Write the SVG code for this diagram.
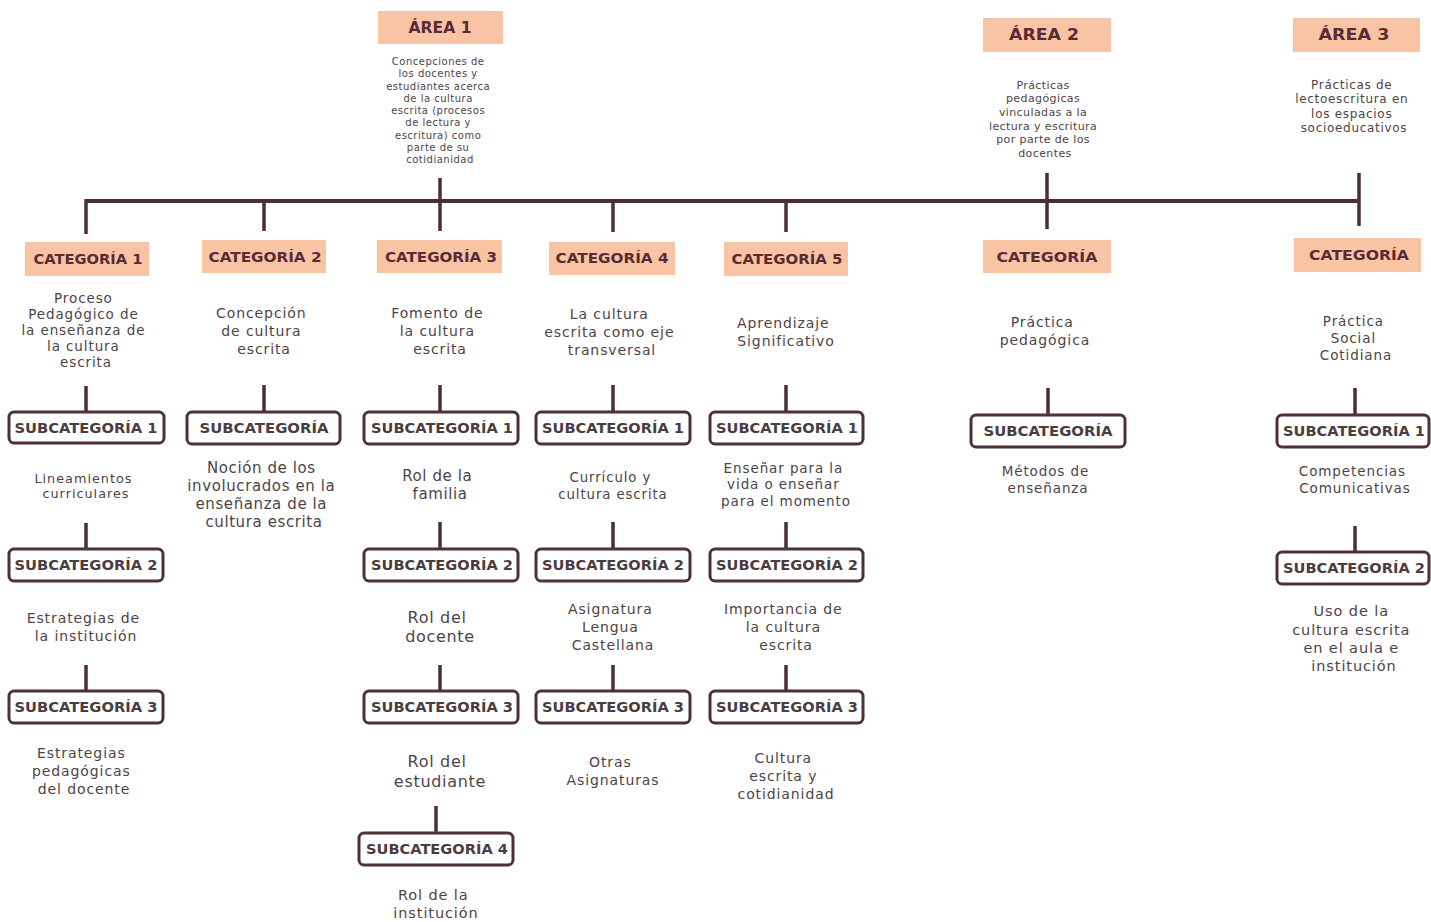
<svg xmlns="http://www.w3.org/2000/svg" width="1431" height="922" viewBox="0 0 1431 922">
  <style>
    .bg { fill: #ffffff; }
    .tag { fill: #f8c4a4; }
    .tagtxt { font-family: "DejaVu Sans", "Lato", sans-serif; font-weight: bold; font-size: 14px; fill: #5a2b36; text-anchor: middle; dominant-baseline: central; }
    .areatxt { font-size: 15.5px; }
    .sub { fill: #ffffff; stroke: #4d3038; stroke-width: 3; }
    .subtxt { font-family: "DejaVu Sans", "Lato", sans-serif; font-weight: bold; font-size: 14px; fill: #4a3d41; text-anchor: middle; dominant-baseline: central; }
    .desc { font-family: "DejaVu Sans", "Open Sans", sans-serif; font-size: 13.5px; letter-spacing: 0.9px; fill: #4e4448; text-anchor: middle; dominant-baseline: central; }
    .link { stroke: #4d2d36; stroke-width: 3.5; fill: none; }
    .bar { stroke: #4d2d36; stroke-width: 4; fill: none; }
  </style>
  <rect class="bg" x="0" y="0" width="1431" height="922"/>

  <!-- connectors -->
  <g id="connectors">
    <line class="bar" x1="86" y1="201" x2="1359" y2="201"/>
    <line class="link" x1="440" y1="178" x2="440" y2="231"/>
    <line class="link" x1="1047" y1="173" x2="1047" y2="229"/>
    <line class="link" x1="1359" y1="173" x2="1359" y2="226"/>
    <line class="link" x1="86" y1="199" x2="86" y2="234"/>
    <line class="link" x1="264" y1="199" x2="264" y2="231"/>
    <line class="link" x1="613" y1="199" x2="613" y2="232"/>
    <line class="link" x1="786" y1="199" x2="786" y2="232"/>
    <!-- description to first subcategory -->
    <line class="link" x1="86" y1="386" x2="86" y2="412"/>
    <line class="link" x1="264" y1="385" x2="264" y2="412"/>
    <line class="link" x1="440" y1="385" x2="440" y2="412"/>
    <line class="link" x1="613" y1="385" x2="613" y2="412"/>
    <line class="link" x1="786" y1="385" x2="786" y2="412"/>
    <line class="link" x1="1048" y1="388" x2="1048" y2="415"/>
    <line class="link" x1="1355" y1="388" x2="1355" y2="415"/>
    <!-- subcategory chains -->
    <line class="link" x1="86" y1="523" x2="86" y2="549"/>
    <line class="link" x1="440" y1="522" x2="440" y2="549"/>
    <line class="link" x1="613" y1="522" x2="613" y2="549"/>
    <line class="link" x1="786" y1="522" x2="786" y2="549"/>
    <line class="link" x1="1355" y1="526" x2="1355" y2="552"/>
    <line class="link" x1="86" y1="665" x2="86" y2="691"/>
    <line class="link" x1="440" y1="665" x2="440" y2="691"/>
    <line class="link" x1="613" y1="665" x2="613" y2="691"/>
    <line class="link" x1="786" y1="665" x2="786" y2="691"/>
    <line class="link" x1="436" y1="806" x2="436" y2="833"/>
  </g>

  <!-- areas -->
  <g id="area1">
    <rect class="tag" x="378" y="11" width="125" height="33"/>
    <text class="tagtxt areatxt" x="440" y="28" textLength="63" lengthAdjust="spacingAndGlyphs">ÁREA 1</text>
    <text class="desc" style="font-size:10px;letter-spacing:0.5px">
      <tspan x="440" y="61">Concepciones de</tspan>
      <tspan x="440" y="73">los docentes y</tspan>
      <tspan x="440" y="86">estudiantes acerca</tspan>
      <tspan x="440" y="98">de la cultura</tspan>
      <tspan x="440" y="110">escrita (procesos</tspan>
      <tspan x="440" y="122">de lectura y</tspan>
      <tspan x="440" y="135">escritura) como</tspan>
      <tspan x="440" y="147">parte de su</tspan>
      <tspan x="440" y="159">cotidianidad</tspan>
    </text>
  </g>
  <g id="area2">
    <rect class="tag" x="983" y="18" width="128" height="34"/>
    <text class="tagtxt areatxt" x="1044" y="35" textLength="70" lengthAdjust="spacingAndGlyphs">ÁREA 2</text>
    <text class="desc" style="font-size:11px;letter-spacing:0.4px">
      <tspan x="1045" y="85">Prácticas</tspan>
      <tspan x="1045" y="98">pedagógicas</tspan>
      <tspan x="1045" y="112">vinculadas a la</tspan>
      <tspan x="1045" y="126">lectura y escritura</tspan>
      <tspan x="1045" y="139">por parte de los</tspan>
      <tspan x="1045" y="153">docentes</tspan>
    </text>
  </g>
  <g id="area3">
    <rect class="tag" x="1293" y="18" width="127" height="34"/>
    <text class="tagtxt areatxt" x="1354" y="35" textLength="71" lengthAdjust="spacingAndGlyphs">ÁREA 3</text>
    <text class="desc" style="font-size:12px;letter-spacing:0.7px">
      <tspan x="1354" y="85">Prácticas de</tspan>
      <tspan x="1354" y="99">lectoescritura en</tspan>
      <tspan x="1354" y="114">los espacios</tspan>
      <tspan x="1354" y="128">socioeducativos</tspan>
    </text>
  </g>

  <!-- categories -->
  <g id="cat1">
    <rect class="tag" x="25" y="242" width="124" height="34"/>
    <text class="tagtxt" x="88" y="259" textLength="109" lengthAdjust="spacingAndGlyphs">CATEGORÍA 1</text>
    <text class="desc">
      <tspan x="86" y="298">Proceso</tspan>
      <tspan x="86" y="314">Pedagógico de</tspan>
      <tspan x="86" y="330">la enseñanza de</tspan>
      <tspan x="86" y="346">la cultura</tspan>
      <tspan x="86" y="362">escrita</tspan>
    </text>
  </g>
  <g id="cat2">
    <rect class="tag" x="202" y="240" width="124" height="33"/>
    <text class="tagtxt" x="265" y="257" textLength="113" lengthAdjust="spacingAndGlyphs">CATEGORÍA 2</text>
    <text class="desc" style="font-size:14px">
      <tspan x="264" y="313">Concepción</tspan>
      <tspan x="264" y="331">de cultura</tspan>
      <tspan x="264" y="349">escrita</tspan>
    </text>
  </g>
  <g id="cat3">
    <rect class="tag" x="377" y="240" width="125" height="33"/>
    <text class="tagtxt" x="441" y="257" textLength="112" lengthAdjust="spacingAndGlyphs">CATEGORÍA 3</text>
    <text class="desc" style="font-size:14px">
      <tspan x="440" y="313">Fomento de</tspan>
      <tspan x="440" y="331">la cultura</tspan>
      <tspan x="440" y="349">escrita</tspan>
    </text>
  </g>
  <g id="cat4">
    <rect class="tag" x="549" y="242" width="126" height="33"/>
    <text class="tagtxt" x="612" y="258" textLength="113" lengthAdjust="spacingAndGlyphs">CATEGORÍA 4</text>
    <text class="desc" style="font-size:14px">
      <tspan x="612" y="314">La cultura</tspan>
      <tspan x="612" y="332">escrita como eje</tspan>
      <tspan x="612" y="350">transversal</tspan>
    </text>
  </g>
  <g id="cat5">
    <rect class="tag" x="724" y="242" width="124" height="34"/>
    <text class="tagtxt" x="787" y="259" textLength="111" lengthAdjust="spacingAndGlyphs">CATEGORÍA 5</text>
    <text class="desc" style="font-size:14px">
      <tspan x="786" y="323">Aprendizaje</tspan>
      <tspan x="786" y="341">Significativo</tspan>
    </text>
  </g>
  <g id="cat-area2">
    <rect class="tag" x="983" y="240" width="128" height="33"/>
    <text class="tagtxt" x="1047" y="257" textLength="101" lengthAdjust="spacingAndGlyphs">CATEGORÍA</text>
    <text class="desc" style="font-size:14px">
      <tspan x="1045" y="322">Práctica</tspan>
      <tspan x="1045" y="340">pedagógica</tspan>
    </text>
  </g>
  <g id="cat-area3">
    <rect class="tag" x="1294" y="238" width="127" height="34"/>
    <text class="tagtxt" x="1359" y="255" textLength="100" lengthAdjust="spacingAndGlyphs">CATEGORÍA</text>
    <text class="desc">
      <tspan x="1356" y="321">Práctica</tspan>
      <tspan x="1356" y="338">Social</tspan>
      <tspan x="1356" y="355">Cotidiana</tspan>
    </text>
  </g>

  <!-- column 1 subcategories -->
  <g id="c1-sub1">
    <rect class="sub" x="9" y="412" width="155" height="31" rx="5"/>
    <text class="subtxt" x="86" y="428" textLength="143" lengthAdjust="spacingAndGlyphs">SUBCATEGORÍA 1</text>
    <text class="desc" style="font-size:12.8px;letter-spacing:1px">
      <tspan x="86" y="478">Lineamientos</tspan>
      <tspan x="86" y="493">curriculares</tspan>
    </text>
  </g>
  <g id="c1-sub2">
    <rect class="sub" x="9" y="549" width="154" height="32" rx="5"/>
    <text class="subtxt" x="86" y="565" textLength="143" lengthAdjust="spacingAndGlyphs">SUBCATEGORÍA 2</text>
    <text class="desc" style="font-size:14px">
      <tspan x="86" y="618">Estrategias de</tspan>
      <tspan x="86" y="636">la institución</tspan>
    </text>
  </g>
  <g id="c1-sub3">
    <rect class="sub" x="9" y="691" width="154" height="32" rx="5"/>
    <text class="subtxt" x="86" y="707" textLength="143" lengthAdjust="spacingAndGlyphs">SUBCATEGORÍA 3</text>
    <text class="desc" style="font-size:14px">
      <tspan x="84" y="753">Estrategias</tspan>
      <tspan x="84" y="771">pedagógicas</tspan>
      <tspan x="84" y="789">del docente</tspan>
    </text>
  </g>

  <!-- column 2 -->
  <g id="c2-sub">
    <rect class="sub" x="187" y="412" width="153" height="32" rx="5"/>
    <text class="subtxt" x="264" y="428" textLength="129" lengthAdjust="spacingAndGlyphs">SUBCATEGORÍA</text>
    <text class="desc" style="font-size:15px;letter-spacing:0.6px">
      <tspan x="264" y="468">Noción de los</tspan>
      <tspan x="264" y="486">involucrados en la</tspan>
      <tspan x="264" y="504">enseñanza de la</tspan>
      <tspan x="264" y="522">cultura escrita</tspan>
    </text>
  </g>

  <!-- column 3 -->
  <g id="c3-sub1">
    <rect class="sub" x="364" y="412" width="154" height="32" rx="5"/>
    <text class="subtxt" x="442" y="428" textLength="142" lengthAdjust="spacingAndGlyphs">SUBCATEGORÍA 1</text>
    <text class="desc" style="font-size:15px;letter-spacing:0.6px">
      <tspan x="440" y="476">Rol de la</tspan>
      <tspan x="440" y="494">familia</tspan>
    </text>
  </g>
  <g id="c3-sub2">
    <rect class="sub" x="364" y="549" width="154" height="32" rx="5"/>
    <text class="subtxt" x="442" y="565" textLength="142" lengthAdjust="spacingAndGlyphs">SUBCATEGORÍA 2</text>
    <text class="desc" style="font-size:16px;letter-spacing:0.7px">
      <tspan x="440" y="617">Rol del</tspan>
      <tspan x="440" y="636">docente</tspan>
    </text>
  </g>
  <g id="c3-sub3">
    <rect class="sub" x="364" y="691" width="154" height="32" rx="5"/>
    <text class="subtxt" x="442" y="707" textLength="142" lengthAdjust="spacingAndGlyphs">SUBCATEGORÍA 3</text>
    <text class="desc" style="font-size:16px;letter-spacing:0.7px">
      <tspan x="440" y="761">Rol del</tspan>
      <tspan x="440" y="781">estudiante</tspan>
    </text>
  </g>
  <g id="c3-sub4">
    <rect class="sub" x="359" y="833" width="154" height="32" rx="5"/>
    <text class="subtxt" x="437" y="849" textLength="142" lengthAdjust="spacingAndGlyphs">SUBCATEGORÍA 4</text>
    <text class="desc" style="font-size:14.5px">
      <tspan x="436" y="895">Rol de la</tspan>
      <tspan x="436" y="913">institución</tspan>
    </text>
  </g>

  <!-- column 4 -->
  <g id="c4-sub1">
    <rect class="sub" x="536" y="412" width="154" height="32" rx="5"/>
    <text class="subtxt" x="613" y="428" textLength="142" lengthAdjust="spacingAndGlyphs">SUBCATEGORÍA 1</text>
    <text class="desc" style="font-size:13.3px;letter-spacing:0.9px">
      <tspan x="613" y="477">Currículo y</tspan>
      <tspan x="613" y="494">cultura escrita</tspan>
    </text>
  </g>
  <g id="c4-sub2">
    <rect class="sub" x="536" y="549" width="154" height="32" rx="5"/>
    <text class="subtxt" x="613" y="565" textLength="142" lengthAdjust="spacingAndGlyphs">SUBCATEGORÍA 2</text>
    <text class="desc" style="font-size:14px">
      <tspan x="613" y="609">Asignatura</tspan>
      <tspan x="613" y="627">Lengua</tspan>
      <tspan x="613" y="645">Castellana</tspan>
    </text>
  </g>
  <g id="c4-sub3">
    <rect class="sub" x="536" y="691" width="154" height="32" rx="5"/>
    <text class="subtxt" x="613" y="707" textLength="142" lengthAdjust="spacingAndGlyphs">SUBCATEGORÍA 3</text>
    <text class="desc" style="font-size:14px">
      <tspan x="613" y="762">Otras</tspan>
      <tspan x="613" y="780">Asignaturas</tspan>
    </text>
  </g>

  <!-- column 5 -->
  <g id="c5-sub1">
    <rect class="sub" x="710" y="412" width="153" height="32" rx="5"/>
    <text class="subtxt" x="787" y="428" textLength="142" lengthAdjust="spacingAndGlyphs">SUBCATEGORÍA 1</text>
    <text class="desc">
      <tspan x="786" y="468">Enseñar para la</tspan>
      <tspan x="786" y="484">vida o enseñar</tspan>
      <tspan x="786" y="501">para el momento</tspan>
    </text>
  </g>
  <g id="c5-sub2">
    <rect class="sub" x="710" y="549" width="153" height="32" rx="5"/>
    <text class="subtxt" x="787" y="565" textLength="142" lengthAdjust="spacingAndGlyphs">SUBCATEGORÍA 2</text>
    <text class="desc" style="font-size:14px">
      <tspan x="786" y="609">Importancia de</tspan>
      <tspan x="786" y="627">la cultura</tspan>
      <tspan x="786" y="645">escrita</tspan>
    </text>
  </g>
  <g id="c5-sub3">
    <rect class="sub" x="710" y="691" width="153" height="32" rx="5"/>
    <text class="subtxt" x="787" y="707" textLength="142" lengthAdjust="spacingAndGlyphs">SUBCATEGORÍA 3</text>
    <text class="desc" style="font-size:14px">
      <tspan x="786" y="758">Cultura</tspan>
      <tspan x="786" y="776">escrita y</tspan>
      <tspan x="786" y="794">cotidianidad</tspan>
    </text>
  </g>

  <!-- area 2 subcategory -->
  <g id="a2-sub">
    <rect class="sub" x="971" y="415" width="154" height="32" rx="5"/>
    <text class="subtxt" x="1048" y="431" textLength="129" lengthAdjust="spacingAndGlyphs">SUBCATEGORÍA</text>
    <text class="desc">
      <tspan x="1048" y="471">Métodos de</tspan>
      <tspan x="1048" y="488">enseñanza</tspan>
    </text>
  </g>

  <!-- area 3 subcategories -->
  <g id="a3-sub1">
    <rect class="sub" x="1277" y="415" width="152" height="32" rx="5"/>
    <text class="subtxt" x="1354" y="431" textLength="142" lengthAdjust="spacingAndGlyphs">SUBCATEGORÍA 1</text>
    <text class="desc">
      <tspan x="1355" y="471">Competencias</tspan>
      <tspan x="1355" y="488">Comunicativas</tspan>
    </text>
  </g>
  <g id="a3-sub2">
    <rect class="sub" x="1277" y="552" width="152" height="32" rx="5"/>
    <text class="subtxt" x="1354" y="568" textLength="142" lengthAdjust="spacingAndGlyphs">SUBCATEGORÍA 2</text>
    <text class="desc" style="font-size:14.5px">
      <tspan x="1354" y="611">Uso de la</tspan>
      <tspan x="1354" y="630">cultura escrita</tspan>
      <tspan x="1354" y="648">en el aula e</tspan>
      <tspan x="1354" y="666">institución</tspan>
    </text>
  </g>
</svg>
